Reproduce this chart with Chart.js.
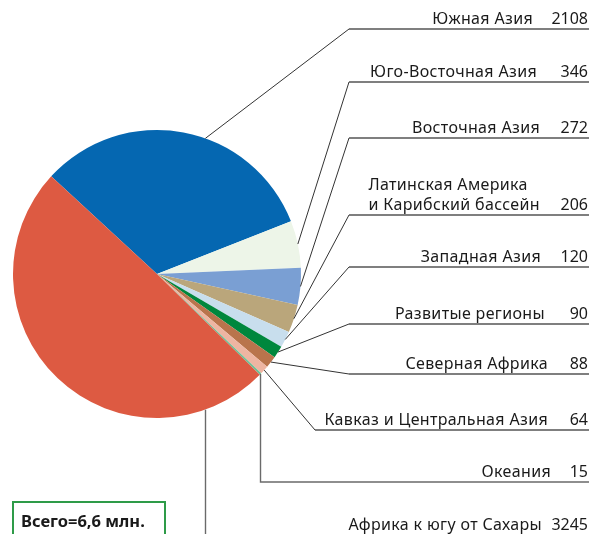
<!DOCTYPE html>
<html><head><meta charset="utf-8">
<script src="https://cdn.jsdelivr.net/npm/chart.js@4.4.1/dist/chart.umd.min.js"></script>
<style>html,body{margin:0;padding:0;background:#fff;}#wrap{position:relative;width:598px;height:534px;}</style>
</head><body><div id="wrap"><canvas id="c" width="598" height="534"></canvas></div>
<script>
// DATA
const categories = ["Южная Азия","Юго-Восточная Азия","Восточная Азия","Латинская Америка\nи Карибский бассейн","Западная Азия","Развитые регионы","Северная Африка","Кавказ и Центральная Азия","Океания","Африка к югу от Сахары"];
const values = [2108,346,272,206,120,90,88,64,15,3245];
const totalLabelPrefix = "Всего=";
const totalLabelSuffix = " млн.";

// STYLE / LAYOUT
const colors = ["#0567b1","#edf5e8","#7a9fd3","#baa67b","#c8deed","#00873d","#b9744c","#eeb5a2","#6cbf94","#dd5a42"];
const labelRows = [29,82,138,215,267,324,374,430,482,540]; // underline y
const labelRight = [533,537,540,540,541,545,548,548,551,542];
const elbowX = [349,349,349,349,349,349,349,315,null,null];
const anchorFrac = [0.578,0.5,0.5,0.5,0.5,0.5,0.5,0.5,0.5,0.146];
const FONT = '16px "Noto Sans", sans-serif';

const labelPlugin = {
  id:'labels',
  afterDraw(chart){
    const ctx = chart.ctx;
    const meta = chart.getDatasetMeta(0);
    ctx.save();
    ctx.textBaseline = 'alphabetic';
    meta.data.forEach((arc,i)=>{
      const p = arc.getProps(['x','y','startAngle','endAngle','outerRadius'],true);
      const a = p.startAngle + (p.endAngle-p.startAngle)*anchorFrac[i];
      const ax = p.x + Math.cos(a)*p.outerRadius;
      const ay = p.y + Math.sin(a)*p.outerRadius;
      const uy = labelRows[i];
      ctx.lineWidth = 1;
      ctx.strokeStyle = '#333';
      ctx.beginPath();
      if (i === 9) {
        ctx.strokeStyle = '#6a6a6a'; ctx.lineWidth = 1.4;
        ctx.moveTo(Math.round(ax)+0.5, ay); ctx.lineTo(Math.round(ax)+0.5, 540);
        ctx.stroke();
      } else if (i === 8) {
        ctx.strokeStyle = '#6a6a6a'; ctx.lineWidth = 1.4;
        ctx.moveTo(ax, ay); ctx.lineTo(ax, uy); ctx.lineTo(589, uy);
        ctx.stroke();
      } else {
        ctx.moveTo(ax, ay); ctx.lineTo(elbowX[i], uy);
        ctx.stroke();
        ctx.beginPath();
        ctx.strokeStyle = '#555'; ctx.lineWidth = 1.3;
        ctx.moveTo(elbowX[i], uy); ctx.lineTo(589, uy);
        ctx.stroke();
      }
      ctx.fillStyle = '#1a1a1a';
      ctx.font = FONT;
      const by = i===9 ? 530 : uy - 5;
      ctx.letterSpacing = '0px';
      ctx.textAlign = 'right';
      ctx.fillText(String(values[i]), 588, by);
      ctx.letterSpacing = '0.35px';
      const lines = categories[i].split('\n');
      const maxW = Math.max(...lines.map(l=>ctx.measureText(l).width));
      const leftX = labelRight[i] - maxW;
      ctx.textAlign = 'left';
      lines.forEach((ln,k)=>{
        ctx.fillText(ln, leftX, by - (lines.length-1-k)*20);
      });
      ctx.letterSpacing = '0px';
    });
    // total box
    const total = values.reduce((s,v)=>s+v,0)/1000;
    ctx.strokeStyle = '#2e9b48'; ctx.lineWidth = 2;
    ctx.strokeRect(13, 502, 152, 40);
    ctx.fillStyle = '#1a1a1a';
    ctx.textAlign = 'left';
    ctx.font = 'bold 16.5px "Noto Sans", sans-serif';
    ctx.fillText(totalLabelPrefix + total.toFixed(1).replace('.',',') + totalLabelSuffix, 21, 527);
    ctx.restore();
  }
};

new Chart(document.getElementById('c'), {
  type:'pie',
  data:{ labels: categories, datasets:[{ data: values, backgroundColor: colors, borderWidth:0 }]},
  options:{
    responsive:false, animation:false,
    rotation:-47.3,
    layout:{ padding:{ left:13, top:130, right:297, bottom:116 } },
    plugins:{ legend:{display:false}, tooltip:{enabled:false} }
  },
  plugins:[labelPlugin]
});
</script></body></html>
